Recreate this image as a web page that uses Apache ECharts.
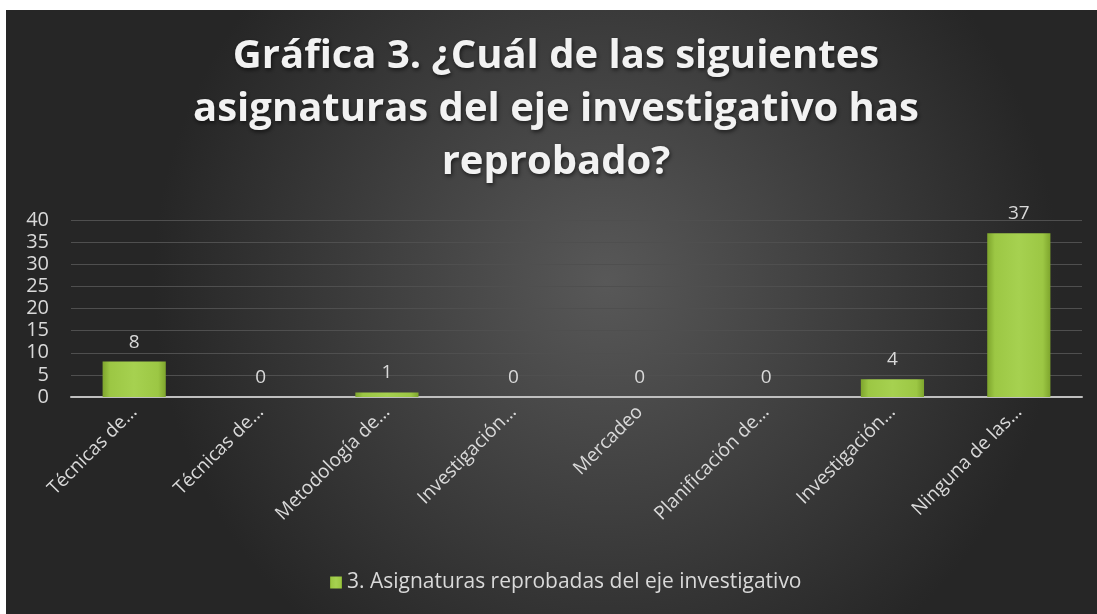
<!DOCTYPE html>
<html>
<head>
<meta charset="utf-8">
<script src="https://cdn.jsdelivr.net/npm/echarts@6/dist/echarts.min.js"></script>
<style>
  html, body { margin: 0; padding: 0; background: #fff; }
  #chart { position: absolute; left: 6px; top: 10px; width: 1091px; height: 604px; }
</style>
</head>
<body>
<div id="chart"></div>
<script>
  // datos
  const categorias = ['Técnicas de…', 'Técnicas de…', 'Metodología de…', 'Investigación…',
    'Mercadeo', 'Planificación de…', 'Investigación…', 'Ninguna de las…'];
  const valores = [8, 0, 1, 0, 0, 0, 4, 37];
  const serieNombre = '3. Asignaturas reprobadas del eje investigativo';
  const titulo = 'Gráfica 3. ¿Cuál de las siguientes\nasignaturas del eje investigativo has\nreprobado?';

  const myChart = echarts.init(document.getElementById('chart'));
  const fuente = 'Open Sans';

  const option = {
    backgroundColor: {
      type: 'radial', x: 0.55, y: 0.45, r: 0.75,
      colorStops: [
        { offset: 0, color: '#585858' },
        { offset: 1, color: '#262626' }
      ]
    },
    textStyle: { fontFamily: fuente },
    title: {
      text: titulo,
      left: 545,
      top: 15,
      textAlign: 'center',
      textStyle: {
        color: '#f2f2f2',
        fontSize: 40,
        fontWeight: 'bold',
        lineHeight: 53,
        fontFamily: fuente,
        textShadowColor: 'rgba(0,0,0,0.6)',
        textShadowBlur: 4,
        textShadowOffsetX: 1,
        textShadowOffsetY: 2
      }
    },
    legend: {
      top: 557,
      left: 319,
      icon: 'rect',
      itemWidth: 12,
      itemHeight: 12,
      itemGap: 6,
      textStyle: { color: '#d9d9d9', fontSize: 21, fontFamily: fuente },
      data: [serieNombre]
    },
    grid: { left: 65, right: 15, top: 210, bottom: 217, containLabel: false },
    xAxis: {
      type: 'category',
      data: categorias,
      axisLine: { lineStyle: { color: '#bfbfbf', width: 2 } },
      axisTick: { show: false },
      axisLabel: {
        rotate: 45,
        interval: 0,
        color: '#d9d9d9',
        fontSize: 19,
        margin: 12,
        fontFamily: fuente
      }
    },
    yAxis: {
      type: 'value',
      min: 0,
      max: 40,
      interval: 5,
      axisLine: { show: false },
      axisTick: { show: false },
      axisLabel: { color: '#d9d9d9', fontSize: 20, margin: 22, fontFamily: fuente },
      splitLine: { lineStyle: { color: '#4f4f4f', width: 1 } }
    },
    series: [{
      name: serieNombre,
      type: 'bar',
      data: valores,
      barWidth: '50%',
      itemStyle: {
        color: {
          type: 'linear', x: 0, y: 0, x2: 1, y2: 0,
          colorStops: [
            { offset: 0, color: '#7ea52d' },
            { offset: 0.12, color: '#9cc744' },
            { offset: 0.5, color: '#a6d150' },
            { offset: 0.88, color: '#9cc744' },
            { offset: 1, color: '#7ea52d' }
          ]
        }
      },
      label: {
        show: true,
        position: 'top',
        distance: 10,
        color: '#d9d9d9',
        fontSize: 19,
        fontFamily: fuente
      }
    }]
  };
  myChart.setOption(option);
</script>
</body>
</html>
